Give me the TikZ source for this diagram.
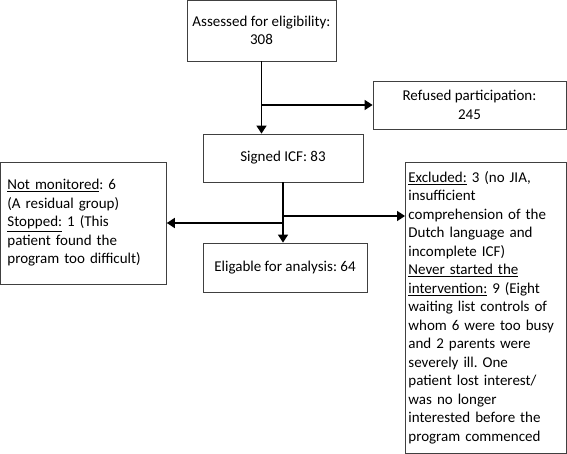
\documentclass[tikz,border=0pt]{standalone}
\usepackage{fontspec}
\setmainfont{Carlito}
\frenchspacing
\usetikzlibrary{arrows.meta, positioning}

\begin{document}
\begin{tikzpicture}[x=1pt, y=-1pt,
    box/.style={draw=black!75, line width=0.8pt, inner sep=0pt,
      font=\fontsize{15}{18.5}\selectfont, align=center},
    sidebox/.style={box, align=left, anchor=west},
    flow/.style={line width=1.6pt, -{Triangle[length=8pt, width=10pt]}}]
  \useasboundingbox (0,0) rectangle (567,454);

  % Main column
  \node[box, minimum width=149, minimum height=61] (assess) at (261.5,30.5)
    {Assessed for eligibility:\\308};
  \node[box, minimum width=160, minimum height=48] (signed) at (283,158)
    {Signed ICF: 83};
  \node[box, minimum width=164, minimum height=49] (eligible) at (285,267.5)
    {Eligable for analysis: 64};

  % Side boxes
  \node[box, minimum width=193, minimum height=48] (refused) at (469.5,105)
    {Refused participation:\\245};
  \node[sidebox, text width=152, minimum height=122, inner xsep=7] (notmon) at (0,223)
    {\underline{Not monitored}: 6\\(A residual group)\\\underline{Stopped:} 1 (This\\patient found the\\program too difficult)};
  \node[sidebox, text width=155, minimum height=291, inner xsep=3] (excluded) at (405,307.5)
    {\underline{Excluded:} 3 (no JIA,\\insufficient\\comprehension of the\\Dutch language and\\incomplete ICF)\\
     \underline{Never started the}\\\underline{intervention:} 9 (Eight\\waiting list controls of\\whom 6 were too busy\\and 2 parents were\\severely ill. One\\patient lost interest/\\was no longer\\interested before the\\program commenced};

  % Connectors
  \coordinate (rbranch) at (283,216);
  \draw[flow] (assess.south) -- (assess.south |- signed.north);
  \draw[flow] (assess.south |- refused.west) -- (refused.west);
  \draw[flow] (signed.south) -- (signed.south |- eligible.north);
  \draw[flow] (signed.south |- notmon.east) -- (notmon.east);
  \draw[flow] (rbranch) -- (rbranch -| excluded.west);
\end{tikzpicture}
\end{document}
